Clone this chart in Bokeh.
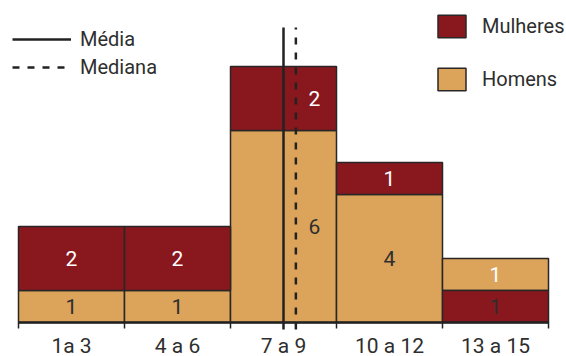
from bokeh.plotting import figure
from bokeh.models import ColumnDataSource, Legend, LegendItem, Range1d
from bokeh.core.properties import value
from bokeh.embed import file_html
from bokeh.resources import INLINE

# ---- data ----
categorias = ["1a 3", "4 a 6", "7 a 9", "10 a 12", "13 a 15"]
idade_min = [1, 4, 7, 10, 13]
idade_max = [3, 6, 9, 12, 15]
homens = [1, 1, 6, 4, 1]
mulheres = [2, 2, 2, 1, 1]
homens_embaixo = [True, True, True, True, False]
media = 8.0
mediana = 8.35

# ---- style ----
FONT = "Roboto"
COR_M = "#89181E"
COR_H = "#DBA45A"
CONTORNO = "#2B2626"
TXT = "#2E2E2E"
FS = "21px"
FS_LEG = "20px"
PX_Y = 32.0  # pixels per count (approx)

W, H = 566, 356
left_edges = [a - 0.5 for a in idade_min]
right_edges = [b + 0.5 for b in idade_max]
centers = [(l + r) / 2 for l, r in zip(left_edges, right_edges)]

x0, x1 = left_edges[0], right_edges[-1]
sx = (x1 - x0) / 530.0
p = figure(width=W, height=H, output_backend="svg", toolbar_location=None,
           x_range=Range1d(x0 - 18 * sx, x1 + 18 * sx),
           y_range=Range1d(-34 / PX_Y, 322 / PX_Y),
           x_axis_location=None, y_axis_location=None, min_border=0,
           outline_line_color=None, background_fill_color="white")
p.grid.visible = False

# stacked segments
h_bottom, h_top, m_bottom, m_top = [], [], [], []
for h, m, hb in zip(homens, mulheres, homens_embaixo):
    if hb:
        h_bottom.append(0); h_top.append(h); m_bottom.append(h); m_top.append(h + m)
    else:
        m_bottom.append(0); m_top.append(m); h_bottom.append(m); h_top.append(m + h)

src_h = ColumnDataSource(dict(left=left_edges, right=right_edges, bottom=h_bottom, top=h_top))
src_m = ColumnDataSource(dict(left=left_edges, right=right_edges, bottom=m_bottom, top=m_top))
rh = p.quad(left="left", right="right", bottom="bottom", top="top", source=src_h,
            fill_color=COR_H, line_color=CONTORNO, line_width=1.5)
rm = p.quad(left="left", right="right", bottom="bottom", top="top", source=src_m,
            fill_color=COR_M, line_color=CONTORNO, line_width=1.5)

# value labels
lab_x, lab_y, lab_t, lab_c, lab_off = [], [], [], [], []
for i, (h, m, hb) in enumerate(zip(homens, mulheres, homens_embaixo)):
    off = 31 if idade_min[i] <= mediana <= idade_max[i] + 0.5 else 0
    for val, b, t in ((h, h_bottom[i], h_top[i]), (m, m_bottom[i], m_top[i])):
        lab_x.append(centers[i]); lab_y.append((b + t) / 2); lab_t.append(str(val))
        # top segment label is white, bottom segment label dark
        lab_c.append("white" if b > 0 else TXT)
        lab_off.append(off)
p.text(x="x", y="y", text="t", text_color="c", x_offset="o",
       source=ColumnDataSource(dict(x=lab_x, y=lab_y, t=lab_t, c=lab_c, o=lab_off)),
       text_font=value(FONT), text_font_size=value(FS),
       text_align="center", text_baseline="middle")

# mean / median
top_line = (322 - 27) / PX_Y
bot_line = -7 / PX_Y
r_media = p.segment(x0=[media], y0=[bot_line], x1=[media], y1=[top_line],
                    line_color="#222222", line_width=2.5)
r_mediana = p.segment(x0=[mediana], y0=[bot_line], x1=[mediana], y1=[top_line],
                      line_color="#222222", line_width=2.5, line_dash="7 8")

# x axis drawn with glyphs
p.segment(x0=[x0], y0=[0], x1=[x1], y1=[0], line_color="#222222", line_width=2.5)
p.segment(x0=left_edges + [x1], y0=0, x1=left_edges + [x1], y1=-6 / PX_Y,
          line_color="#222222", line_width=1.5)
p.text(x=centers, y=[0] * len(centers), text=categorias, y_offset=23,
       text_font=value(FONT), text_font_size=value(FS), text_color=TXT,
       text_align="center", text_baseline="middle")

# legends
leg1 = Legend(items=[LegendItem(label="Média", renderers=[r_media]),
                     LegendItem(label="Mediana", renderers=[r_mediana])],
              location=(12, H - 81), glyph_width=59, glyph_height=28, label_height=28,
              spacing=0, padding=0, margin=0, label_standoff=9,
              label_text_font=FONT, label_text_font_size=FS_LEG, label_text_color=TXT,
              border_line_color=None, background_fill_alpha=0)
leg2 = Legend(items=[LegendItem(label="Mulheres", renderers=[rm]),
                     LegendItem(label="Homens", renderers=[rh])],
              location=(434, H - 93), glyph_width=35, glyph_height=28, label_height=28,
              spacing=25, padding=0, margin=0, label_standoff=13,
              label_text_font=FONT, label_text_font_size=FS_LEG, label_text_color=TXT,
              border_line_color=None, background_fill_alpha=0)
p.add_layout(leg1)
p.add_layout(leg2)

open("out.html", "w").write(file_html(p, INLINE))
